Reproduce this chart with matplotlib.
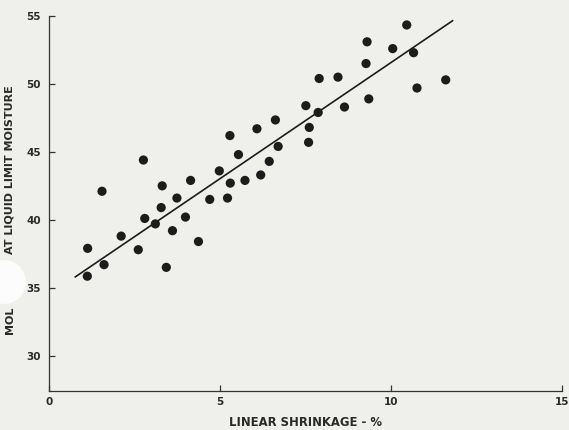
import matplotlib
matplotlib.use("Agg")
import matplotlib.pyplot as plt
from matplotlib.patches import Ellipse

# --- data
shrinkage = [1.12, 1.13, 1.55, 1.61, 2.11, 2.61, 2.76, 2.80, 3.11, 3.28, 3.31,
             3.43, 3.61, 3.74, 3.99, 4.14, 4.37, 4.70, 4.98, 5.22, 5.29, 5.30,
             5.54, 5.73, 6.08, 6.19, 6.44, 6.62, 6.70, 7.51, 7.61, 7.59, 7.87,
             7.90, 8.45, 8.64, 9.27, 9.30, 9.35, 10.05, 10.46, 10.66, 10.76, 11.6]
moisture = [35.85, 37.9, 42.1, 36.7, 38.8, 37.8, 44.4, 40.1, 39.7, 40.9, 42.5,
            36.5, 39.2, 41.6, 40.2, 42.9, 38.4, 41.5, 43.6, 41.6, 46.2, 42.7,
            44.8, 42.9, 46.7, 43.3, 44.3, 47.35, 45.4, 48.4, 46.8, 45.7, 47.9,
            50.4, 50.5, 48.3, 51.5, 53.1, 48.9, 52.6, 54.34, 52.3, 49.7, 50.3]
fit_x = [0.77, 11.8]
fit_y = [35.8, 54.65]
x_ticks = [0, 5, 10, 15]
y_ticks = [30, 35, 40, 45, 50, 55]

paper = "#efefec"
ink = "#1c1c1c"
txt = "#2a2a2a"

fig = plt.figure(figsize=(5.69, 4.30), dpi=100, facecolor=paper)
ax = fig.add_axes([49 / 569, 1 - 391 / 430, 513 / 569, 375 / 430])
ax.set_facecolor(paper)

ax.scatter(shrinkage, moisture, s=44, color=ink, edgecolors="none", zorder=3)
ax.plot(fit_x, fit_y, color=ink, linewidth=1.2, zorder=2)

ax.set_xlim(0, 15)
ax.set_ylim(27.4, 55)
ax.set_xticks(x_ticks)
ax.set_yticks(y_ticks)

for s in ["top", "right"]:
    ax.spines[s].set_visible(False)
for s in ["left", "bottom"]:
    ax.spines[s].set_color("#333333")
    ax.spines[s].set_linewidth(0.9)

ax.tick_params(direction="in", length=4, width=0.9, color="#333333",
               labelsize=7.5, labelcolor=txt)
ax.tick_params(axis="y", pad=6)
ax.tick_params(axis="x", pad=4)
for lab in ax.get_xticklabels() + ax.get_yticklabels():
    lab.set_fontweight("bold")

ax.set_xlabel("LINEAR SHRINKAGE - %", fontsize=8.4, fontweight="bold",
              color=txt, labelpad=7)

# y label is split by the punched hole in the page
fig.text(10 / 569, 1 - 320 / 430, "MOL", rotation=90, ha="center", va="center",
         fontsize=8, fontweight="bold", color=txt)
fig.text(10 / 569, 1 - 170 / 430, "AT LIQUID LIMIT MOISTURE", rotation=90,
         ha="center", va="center", fontsize=8, fontweight="bold", color=txt)

hole = Ellipse((4 / 569, 1 - 282 / 430), 44 / 569, 44 / 430,
               transform=fig.transFigure, facecolor="#fcfcfc",
               edgecolor="none", zorder=10)
fig.patches.append(hole)

fig.savefig("out.png", dpi=100, facecolor=paper)
